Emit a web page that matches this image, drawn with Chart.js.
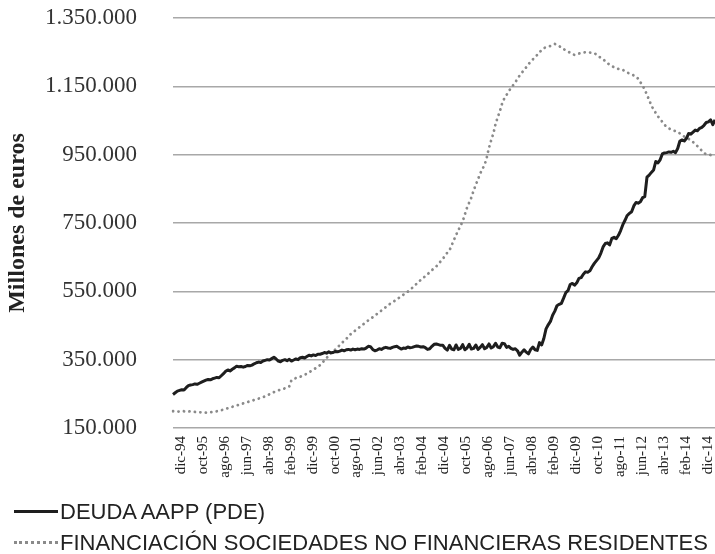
<!DOCTYPE html>
<html lang="es">
<head>
<meta charset="utf-8">
<title>Deuda AAPP y financiación SNF</title>
<script src="https://cdn.jsdelivr.net/npm/chart.js@4.4.1/dist/chart.umd.min.js"></script>
<style>
    html, body { margin: 0; padding: 0; background: #ffffff; }
    #contenedor { position: relative; width: 715px; height: 554px; }
    #grafico { display: block; }
    #leyenda { position: absolute; left: 14px; top: 496px; font-family: "Liberation Sans", Arial, sans-serif; font-size: 22px; color: #222; }
    .item { height: 31px; display: flex; align-items: center; white-space: nowrap; }
    .muestra { width: 44px; height: 0; margin-right: 2px; }
    .texto { display: inline-block; }
</style>
</head>
<body>
<div id="contenedor">
    <canvas id="grafico" width="715" height="554"></canvas>
    <div id="leyenda">
        <div class="item"><span class="muestra" style="border-top: 3px solid #1e1e1e;"></span><span class="texto">DEUDA AAPP (PDE)</span></div>
        <div class="item"><span class="muestra" style="border-top: 3px dotted #8a8a8a;"></span><span class="texto">FINANCIACIÓN SOCIEDADES NO FINANCIERAS RESIDENTES</span></div>
    </div>
</div>
<script>
// Meses en español para las etiquetas del eje X (serie mensual desde dic-94)
const meses = ["ene", "feb", "mar", "abr", "may", "jun", "jul", "ago", "sep", "oct", "nov", "dic"];
const etiquetas = [];
for (let i = 0; i < 248; i++) {
    const m = (11 + i) % 12;
    const anio = 94 + Math.floor((11 + i) / 12);
    etiquetas.push(meses[m] + "-" + String(anio % 100).padStart(2, "0"));
}

const nombreDeuda = "DEUDA AAPP (PDE)";
const nombreFinanciacion = "FINANCIACIÓN SOCIEDADES NO FINANCIERAS RESIDENTES";

// Deuda de las AAPP (millones de euros)
const deudaAAPP = [
    248000, 253000, 258000, 260000, 262000, 261000, 268000, 274000, 276000, 277000, 279000, 278000, 281000,
    284000, 287000, 290000, 292000, 291000, 294000, 296000, 298000, 297000, 303000, 309000, 316000,
    320000, 317000, 322000, 326000, 331000, 329000, 330000, 328000, 330000, 333000, 332000, 334000,
    338000, 341000, 343000, 342000, 346000, 348000, 350000, 349000, 353000, 357000, 352000, 346000,
    344000, 348000, 350000, 347000, 351000, 346000, 349000, 352000, 350000, 356000, 357000, 355000,
    359000, 363000, 361000, 364000, 362000, 366000, 366000, 368000, 371000, 369000, 373000, 370000,
    371000, 374000, 373000, 375000, 378000, 376000, 379000, 380000, 378000, 381000, 379000, 381000,
    380000, 382000, 381000, 384000, 389000, 388000, 380000, 376000, 378000, 382000, 380000, 384000,
    386000, 384000, 383000, 386000, 388000, 389000, 385000, 381000, 384000, 383000, 387000, 385000,
    386000, 388000, 390000, 389000, 387000, 388000, 385000, 380000, 382000, 389000, 395000, 396000, 394000, 392000, 392000, 383000,
    378000, 392000, 381000, 379000, 393000, 380000, 383000, 394000, 379000, 384000, 395000, 381000,
    383000, 393000, 380000, 386000, 394000, 382000, 386000, 396000, 384000, 388000, 398000, 387000,
    385000, 398000, 397000, 386000, 389000, 383000, 380000, 382000, 376000, 363000,
    372000, 379000, 372000, 367000, 380000, 387000, 379000, 377000, 400000, 393000,
    412000, 440000, 452000, 462000, 480000, 492000, 508000, 512000, 515000, 530000,
    546000, 552000, 570000, 573000, 568000,
    575000, 588000, 590000, 600000, 607000, 606000, 610000, 622000, 632000, 640000,
    648000, 662000, 680000, 690000, 692000, 686000, 705000, 708000, 704000, 714000,
    728000, 745000, 758000, 772000, 778000, 783000, 800000, 810000, 808000, 812000,
    824000, 827000,
    884000, 890000, 898000, 905000, 930000, 926000, 935000, 952000, 955000, 956000,
    958000, 957000, 960000, 956000, 968000, 990000, 993000, 990000, 998000, 1012000,
    1010000, 1016000, 1022000, 1020000, 1027000, 1030000, 1036000, 1044000, 1046000, 1052000,
    1038000, 1052000
];

// Financiación a sociedades no financieras residentes (millones de euros)
const financiacionSNF = [
    199000, 199000, 198000, 198000, 199000, 199000, 198000, 198000, 199000, 198000, 197000, 197000, 196000, 196000, 196000, 195000, 195000,
    196000, 197000, 198000, 199000, 200000, 202000, 204000, 206000, 208000, 210000,
    212000, 214000, 216000, 218000, 220000, 222000, 224000, 226000, 228000, 230000,
    232000, 234000, 236000, 238000, 240000, 243000, 246000, 249000, 252000, 255000,
    258000, 260000, 262000, 264000, 266000, 268000, 272000,
    290000, 294000, 296000, 298000, 300000, 303000, 306000,
    309000, 313000, 317000, 321000, 325000, 329000, 334000, 341000, 348000, 355000, 362000, 370000,
    374000, 380000, 386000, 393000, 399000, 405000, 411000, 418000, 425000, 430000, 435000, 440000, 445000, 450000, 455000, 460000, 465000, 470000,
    474000, 479000, 484000, 489000, 494000, 499000, 504000, 509000, 514000, 518000,
    522000, 527000, 531000, 536000, 540000, 545000, 549000, 554000, 560000, 566000,
    572000, 578000, 584000, 589000, 595000, 600000, 606000, 612000, 618000, 623000,
    630000, 638000, 645000, 655000, 663000, 670000, 685000, 700000, 715000, 728000,
    742000, 755000, 775000, 795000, 810000, 825000, 845000, 862000, 878000, 895000,
    908000, 920000, 942000, 970000, 992000, 1012000, 1040000, 1060000, 1078000, 1100000,
    1115000, 1125000, 1135000, 1145000, 1153000, 1162000, 1172000, 1182000, 1190000, 1198000,
    1206000, 1215000, 1222000, 1229000, 1236000, 1242000, 1250000, 1256000, 1262000, 1264000,
    1266000, 1268000, 1271000, 1274000, 1272000, 1268000, 1263000, 1259000, 1255000, 1252000,
    1248000, 1244000, 1242000, 1244000, 1246000, 1247000, 1249000, 1250000, 1250000, 1249000,
    1248000, 1247000, 1243000, 1238000, 1233000, 1229000, 1224000, 1218000, 1213000, 1209000,
    1206000, 1203000, 1201000, 1199000, 1198000, 1194000, 1190000, 1188000, 1185000, 1182000,
    1179000, 1172000, 1162000, 1152000, 1140000, 1125000, 1110000, 1094000, 1082000, 1072000,
    1062000, 1054000, 1046000, 1037000, 1032000, 1027000, 1023000, 1021000, 1019000, 1017000,
    1012000, 1007000, 1003000, 1000000, 996000, 993000, 987000, 981000, 975000, 968000,
    962000, 955000, 951000, 950000, 949000, 946000, 944000
];

// Eje Y: límites y paso de las marcas
const ejeYMin = 150000;
const ejeYMax = 1350000;
const ejeYPaso = 200000;

// Formato con punto como separador de miles
function formatoMiles(v) {
    return String(v).replace(/\B(?=(\d{3})+(?!\d))/g, ".");
}

new Chart(document.getElementById("grafico"), {
    type: "line",
    data: {
        labels: etiquetas,
        datasets: [
            {
                label: nombreDeuda,
                data: deudaAAPP,
                borderColor: "#1e1e1e",
                borderWidth: 3,
                pointRadius: 0,
                tension: 0,
                borderJoinStyle: "round"
            },
            {
                label: nombreFinanciacion,
                data: financiacionSNF,
                borderColor: "#8a8a8a",
                borderWidth: 2.8,
                borderDash: [0.1, 5.4],
                borderCapStyle: "round",
                pointRadius: 0,
                tension: 0
            }
        ]
    },
    options: {
        responsive: false,
        animation: false,
        layout: { padding: { top: 18, right: 0, bottom: 0, left: 0 } },
        plugins: {
            legend: { display: false }, // La leyenda va en HTML debajo
            tooltip: { enabled: false }
        },
        scales: {
            x: {
                offset: false,
                grid: { display: false, drawTicks: false },
                border: { display: false },
                ticks: {
                    autoSkip: false,
                    minRotation: 90,
                    maxRotation: 90,
                    padding: 8,
                    labelOffset: 8,
                    color: "#222",
                    font: { family: "Liberation Serif", size: 15 },
                    callback: function (valor, indice) {
                        return indice % 10 === 0 ? this.getLabelForValue(valor) : "";
                    }
                },
                afterFit: (escala) => {
                    escala.height = 126;
                    escala.paddingLeft = 0;
                    escala.paddingRight = 0;
                }
            },
            y: {
                min: ejeYMin,
                max: ejeYMax,
                grid: { color: "#a8a8a8", lineWidth: 1.6, drawTicks: false },
                border: { display: false },
                ticks: {
                    stepSize: ejeYPaso,
                    padding: 36,
                    color: "#333",
                    font: { family: "Liberation Serif", size: 23 },
                    callback: (v) => formatoMiles(v)
                },
                title: {
                    display: true,
                    text: "Millones de euros",
                    color: "#222",
                    padding: { top: 3, bottom: 0 },
                    font: { family: "Liberation Serif", size: 24, weight: "bold" }
                },
                afterFit: (escala) => {
                    escala.width = 173;
                    escala.paddingTop = 0;
                    escala.paddingBottom = 0;
                }
            }
        }
    }
});
</script>
</body>
</html>
